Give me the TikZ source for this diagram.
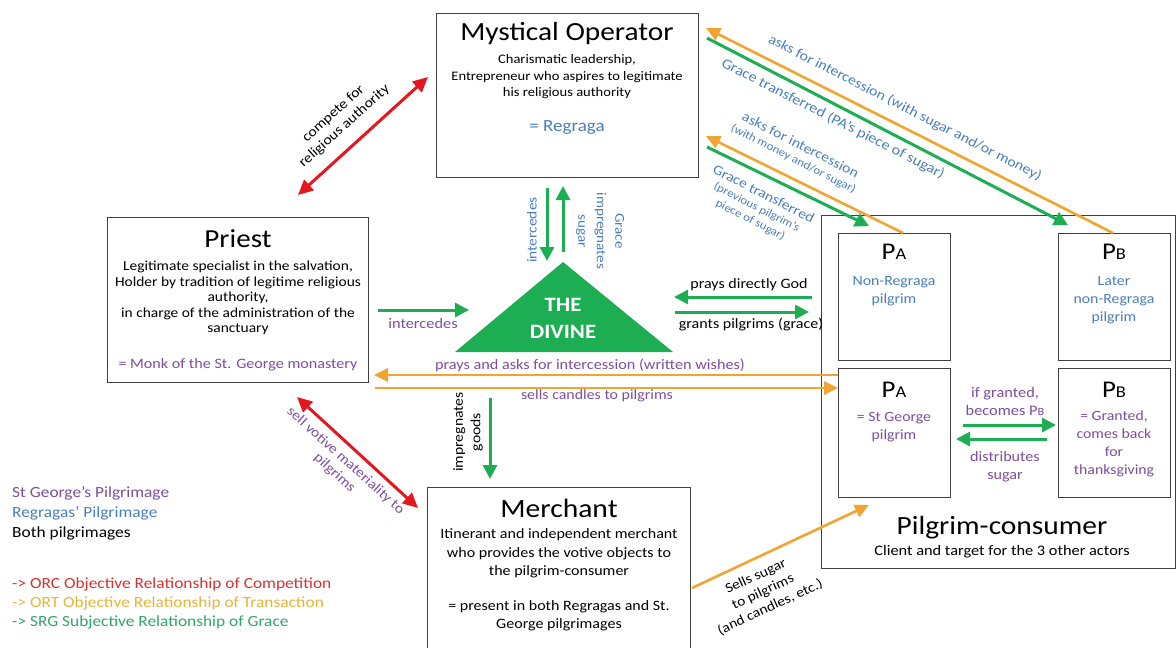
\documentclass[tikz,border=0pt]{standalone}
\usepackage{fontspec}
\setmainfont{Carlito}[FakeStretch=1.12]
\usetikzlibrary{arrows.meta}
\definecolor{og}{HTML}{F2A431}
\definecolor{gr}{HTML}{1DAE54}
\definecolor{rd}{HTML}{E3171F}
\definecolor{bl}{HTML}{4A7EBB}
\definecolor{pu}{HTML}{7B4F9E}
\definecolor{lrd}{HTML}{D9312E}
\definecolor{log}{HTML}{E8B33A}
\definecolor{lgr}{HTML}{2FA56A}
\newcommand\fs[2]{\fontsize{#1}{#2}\selectfont}
\newcommand\pmark[1]{{\fs{24}{26}P\fs{16.5}{18}#1}}
\tikzset{
  box/.style={draw=black!75, line width=0.9pt, fill=white, inner sep=0pt},
  garrow/.style={draw=gr, line width=3pt, -{Triangle[length=14pt,width=14pt]}},
  oarrow/.style={draw=og, line width=2.6pt, -{Triangle[length=14pt,width=13pt]}},
  rarrow/.style={draw=rd, line width=3pt, {Triangle[length=15pt,width=14pt]}-{Triangle[length=15pt,width=14pt]}},
  title/.style={font=\fs{26.2}{30}, inner sep=0pt},
  body/.style={font=\fs{13}{16.5}, align=center, inner sep=0pt},
  lbl/.style={font=\fs{14.3}{16}, align=center, inner sep=0pt},
  leg/.style={font=\fs{15.5}{17}, anchor=west, inner sep=0pt},
  pbody/.style={font=\fs{14.1}{18}, align=center, inner sep=0pt},
}
\begin{document}
\begin{tikzpicture}[x=1pt,y=-1pt]
\useasboundingbox (0,0) rectangle (1176,648);

% ---------- boxes ----------
\node[box, anchor=north west, minimum width=262pt, minimum height=164pt] (mo) at (436,13) {};
\node[box, anchor=north west, minimum width=261pt, minimum height=165pt] (pr) at (107,217) {};
\node[anchor=north west, minimum width=263pt, minimum height=161pt, inner sep=0pt] (me) at (427,487) {};
\draw[black!75, line width=0.9pt] (427,652) -- (427,487) -- (690,487) -- (690,652);
\node[box, anchor=north west, minimum width=354pt, minimum height=353pt] (pc) at (821,215) {};
\node[box, anchor=north west, minimum width=112pt, minimum height=127pt] (pa1) at (838,233) {};
\node[box, anchor=north west, minimum width=112pt, minimum height=127pt] (pb1) at (1058,233) {};
\node[box, anchor=north west, minimum width=112pt, minimum height=129pt] (pa2) at (838,368) {};
\node[box, anchor=north west, minimum width=112pt, minimum height=129pt] (pb2) at (1058,368) {};

% ---------- the divine ----------
\fill[gr] (563,262) -- (673,352) -- (455,352) -- cycle;
\node[font=\fs{20.4}{27}\bfseries, text=white, align=center, inner sep=0pt] (div) at (563,318) {THE\\DIVINE};

% ---------- box texts ----------
\node[title] (motitle) at (567,34) {Mystical Operator};
\node[body] (mobody) at (567,77) {Charismatic leadership,\\Entrepreneur who aspires to legitimate\\his religious authority};
\node[body, text=bl, font=\fs{17}{18}] (moreg) at (567,128) {= Regraga};

\node[title, font=\fs{26}{30}] (prtitle) at (238,239) {Priest};
\node[body, font=\fs{13.8}{15.4}] (prbody) at (238,298) {Legitimate specialist in the salvation,\\Holder by tradition of legitime religious\\authority,\\in charge of the administration of the\\sanctuary};
\node[body, text=pu, font=\fs{14.4}{16}] (prmonk) at (238,365) {= Monk of the St. George monastery};

\node[title, font=\fs{26.4}{30}] (metitle) at (559,508) {Merchant};
\node[body, font=\fs{14.3}{18.5}] (mebody) at (559,553.5) {Itinerant and independent merchant\\who provides the votive objects to\\the pilgrim-consumer};
\node[body, font=\fs{14.3}{18.5}] (mebody2) at (559,616) {= present in both Regragas and St.\\George pilgrimages};

\node[title, font=\fs{26.3}{30}] (pctitle) at (1002,528) {Pilgrim-consumer};
\node[body, font=\fs{14.6}{16}] (pcsub) at (1002,552) {Client and target for the 3 other actors};

\node[inner sep=0pt] (pa1t) at (894,252) {\pmark{A}};
\node[pbody, text=bl] (pa1b) at (894,291) {Non-Regraga\\pilgrim};
\node[inner sep=0pt] (pb1t) at (1114,252) {\pmark{B}};
\node[pbody, text=bl] (pb1b) at (1114,300) {Later\\non-Regraga\\pilgrim};
\node[inner sep=0pt] (pa2t) at (894,390) {\pmark{A}};
\node[pbody, text=pu] (pa2b) at (894,427) {= St George\\pilgrim};
\node[inner sep=0pt] (pb2t) at (1114,390) {\pmark{B}};
\node[pbody, text=pu] (pb2b) at (1114,444) {= Granted,\\comes back\\for\\thanksgiving};

% ---------- coordinates for arrow ends ----------
\coordinate (c1a) at (298,195); \coordinate (c1b) at (428,77);
\coordinate (c2a) at (297,397); \coordinate (c2b) at (418,508);
\coordinate (d1a) at (547,188); \coordinate (d1b) at (547,261);
\coordinate (d2a) at (563,252); \coordinate (d2b) at (563,186);
\coordinate (p1a) at (378,310); \coordinate (p1b) at (469,310);
\coordinate (g1a) at (812,297); \coordinate (g1b) at (674,297);
\coordinate (g2a) at (675,312); \coordinate (g2b) at (809,312);
\coordinate (o1a) at (838,375); \coordinate (o1b) at (374,375);
\coordinate (o2a) at (375,388); \coordinate (o2b) at (838,388);
\coordinate (m1a) at (490,398); \coordinate (m1b) at (490,479);
\coordinate (m2a) at (692,588); \coordinate (m2b) at (869,505);
\coordinate (i1a) at (963,425); \coordinate (i1b) at (1056,425);
\coordinate (i2a) at (1047,439); \coordinate (i2b) at (956,439);
\coordinate (t1a) at (1113,233); \coordinate (t1b) at (706,28);
\coordinate (t2a) at (707,38); \coordinate (t2b) at (1068,225);
\coordinate (t3a) at (903,233); \coordinate (t3b) at (706,136);
\coordinate (t4a) at (707,147); \coordinate (t4b) at (869,226);

% ---------- arrows ----------
\draw[rarrow] (c1a) -- (c1b);
\draw[rarrow] (c2a) -- (c2b);
\draw[garrow] (d1a) -- (d1b);
\draw[garrow] (d2a) -- (d2b);
\draw[garrow] (p1a) -- (p1b);
\draw[garrow] (g1a) -- (g1b);
\draw[garrow] (g2a) -- (g2b);
\draw[oarrow] (o1a) -- (o1b);
\draw[oarrow] (o2a) -- (o2b);
\draw[garrow] (m1a) -- (m1b);
\draw[oarrow] (m2a) -- (m2b);
\draw[garrow] (i1a) -- (i1b);
\draw[garrow] (i2a) -- (i2b);
\draw[oarrow] (t1a) -- (t1b);
\draw[garrow] (t2a) -- (t2b);
\draw[oarrow] (t3a) -- (t3b);
\draw[garrow] (t4a) -- (t4b);

% ---------- arrow labels ----------
\node[lbl, font=\fs{14}{16.5}, rotate=42] (lc1) at (339,120) {compete for\\religious authority};
\node[lbl, font=\fs{14}{16.5}, rotate=-42, text=pu] (lc2) at (340,467) {sell votive materiality to\\pilgrims};
\node[lbl, rotate=90, text=bl, font=\fs{13.8}{16}] (ld1) at (532,230) {intercedes};
\node[lbl, rotate=-90, text=bl, font=\fs{13.5}{18.5}] (ld2) at (600,231) {Grace\\impregnates\\sugar};
\node[lbl, text=pu, font=\fs{14.6}{16}] (lp1) at (423,323) {intercedes};
\node[lbl] (lg1) at (749,285) {prays directly God};
\node[lbl] (lg2) at (751,324) {grants pilgrims (grace)};
\node[lbl, text=pu, font=\fs{14.5}{16}] (lo1) at (590,365) {prays and asks for intercession (written wishes)};
\node[lbl, text=pu, font=\fs{14.2}{16}] (lo2) at (597,396) {sells candles to pilgrims};
\node[lbl, rotate=90, font=\fs{14}{17.5}] (lm1) at (468,432) {impregnates\\goods};
\node[lbl, rotate=25, font=\fs{13.8}{17}] (lm2) at (763,592) {Sells sugar\\to pilgrims\\(and candles, etc.)};
\node[lbl, text=pu, font=\fs{14.6}{18}] (li1) at (1005,401) {if granted,\\becomes P{\fs{11}{12}B}};
\node[lbl, text=pu, font=\fs{14.4}{18}] (li2) at (1005,467) {distributes\\sugar};
\node[lbl, rotate=-27, text=bl, font=\fs{14.1}{15}] (lt1) at (905,108) {asks for intercession (with sugar and/or money)};
\node[lbl, rotate=-27, text=bl, font=\fs{14.4}{15}] (lt2) at (833,119) {Grace transferred (PA’s piece of sugar)};
\node[lbl, rotate=-27, text=bl, font=\fs{14}{14.5}] (lt3) at (797,152) {asks for intercession\\{\fs{11.4}{13}(with money and/or sugar)}};
\node[lbl, rotate=-27, text=bl, font=\fs{14}{14}] (lt4) at (757,207) {Grace transferred\\{\fs{11.4}{13}(previous pilgrim’s}\\{\fs{11.4}{13}piece of sugar)}};

% ---------- legend ----------
\node[leg, text=pu] (lg-a) at (12,493) {St George’s Pilgrimage};
\node[leg, text=bl] (lg-b) at (12,513) {Regragas’ Pilgrimage};
\node[leg] (lg-c) at (12,533) {Both pilgrimages};
\node[leg, text=lrd] (lg-d) at (12,584) {-> ORC Objective Relationship of Competition};
\node[leg, text=log] (lg-e) at (12,603) {-> ORT Objective Relationship of Transaction};
\node[leg, text=lgr] (lg-f) at (12,622) {-> SRG Subjective Relationship of Grace};
\end{tikzpicture}
\end{document}
